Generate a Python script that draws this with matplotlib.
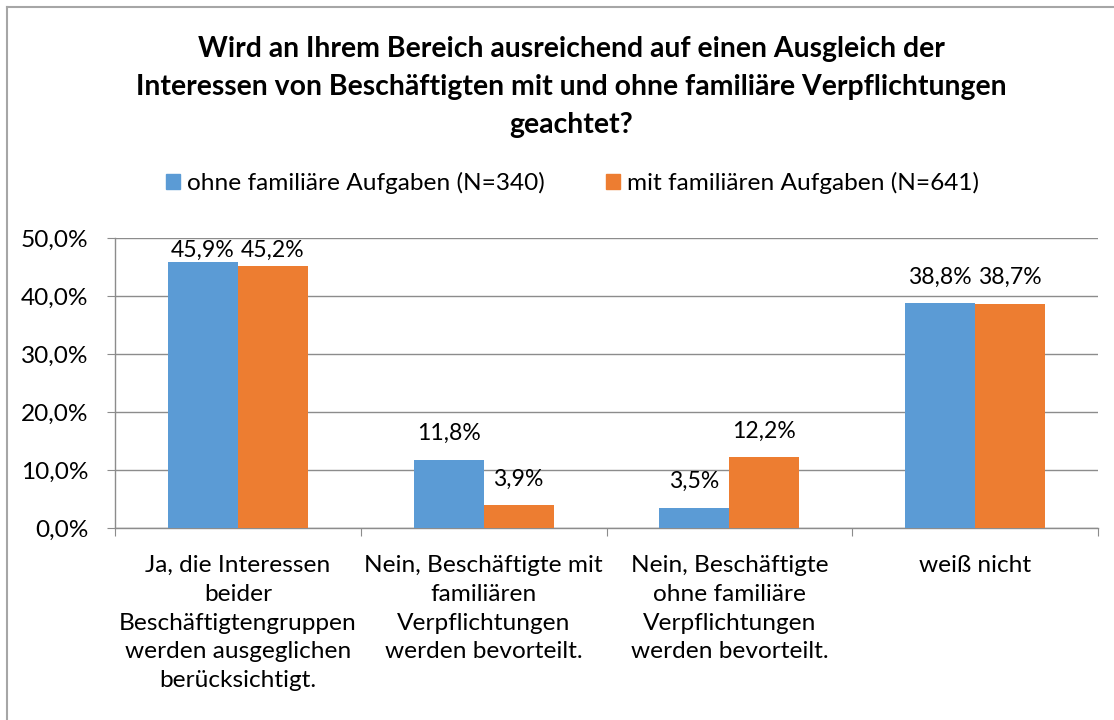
import matplotlib
matplotlib.use("Agg")
import matplotlib.pyplot as plt
import numpy as np
from matplotlib.patches import Rectangle
from matplotlib.lines import Line2D
import matplotlib.transforms as mtransforms

plt.rcParams['font.family'] = ['Lato', 'DejaVu Sans']

title = ("Wird an Ihrem Bereich ausreichend auf einen Ausgleich der\n"
         "Interessen von Beschäftigten mit und ohne familiäre Verpflichtungen\n"
         "geachtet?")
categories = ["Ja, die Interessen\nbeider\nBeschäftigtengruppen\nwerden ausgeglichen\nberücksichtigt.",
              "Nein, Beschäftigte mit\nfamiliären\nVerpflichtungen\nwerden bevorteilt.",
              "Nein, Beschäftigte\nohne familiäre\nVerpflichtungen\nwerden bevorteilt.",
              "weiß nicht"]
series_names = ["ohne familiäre Aufgaben (N=340)", "mit familiären Aufgaben (N=641)"]
ohne = [45.9, 11.8, 3.5, 38.8]
mit = [45.2, 3.9, 12.2, 38.7]
yticks = [0, 10, 20, 30, 40, 50]
colors = ["#5B9BD5", "#ED7D31"]

W, H = 1114, 720
FS = 17.6
fig = plt.figure(figsize=(W/100, H/100), dpi=100)
ax = fig.add_axes([115/W, 1-528/H, (1098-115)/W, (528-238)/H])

x = np.arange(len(categories))
bw = 0.285
for i, (vals, c) in enumerate(zip([ohne, mit], colors)):
    pos = x + (i - 0.5) * bw
    ax.bar(pos, vals, width=bw, color=c, zorder=3, label=series_names[i])
    for p, v in zip(pos, vals):
        yc = min(v + 4.5, 47.9)
        ax.text(p, yc, f"{v:.1f}%".replace('.', ','), ha='center', va='center',
                fontsize=16.6, color='black', zorder=4)

ax.set_xlim(-0.5, len(categories) - 0.5)
ax.set_ylim(0, 50)
ax.set_yticks(yticks)
ax.set_yticklabels([f"{t:.1f}%".replace('.', ',') for t in yticks], fontsize=FS)
ax.yaxis.grid(True, color='#8C8C8C', linewidth=1, zorder=0)
ax.set_axisbelow(True)
for s in ['top', 'right']:
    ax.spines[s].set_visible(False)
for s in ['left', 'bottom']:
    ax.spines[s].set_color('#8C8C8C')
    ax.spines[s].set_linewidth(1)
ax.tick_params(axis='y', length=6, color='#8C8C8C', pad=13)
ax.set_xticks(np.arange(-0.5, len(categories)))
ax.set_xticklabels([])
ax.tick_params(axis='x', length=6, color='#8C8C8C')

trans = mtransforms.blended_transform_factory(ax.transData, fig.transFigure)
for xi, lab in zip(x, categories):
    ax.text(xi, 1-555/H, lab, ha='center', va='top', fontsize=FS, linespacing=1.46,
            transform=trans, multialignment='center')

fig.text(571/W, 1-87/H, title, ha='center', va='center', fontsize=20.4, fontweight='bold',
         linespacing=1.55)

handles = [Rectangle((0, 0), 1, 1, color=c) for c in colors]
fig.legend(handles, series_names, loc='center', bbox_to_anchor=(0.514, 1-183/H), ncol=2,
           frameon=False, fontsize=FS, handlelength=0.57, handleheight=0.57,
           handletextpad=0.3, columnspacing=2.5, borderaxespad=0)

fig.add_artist(Line2D([7/W, 1], [1-7/H, 1-7/H], transform=fig.transFigure,
                      color='#A6A6A6', linewidth=1.5))
fig.add_artist(Line2D([7/W, 7/W], [0, 1-7/H], transform=fig.transFigure,
                      color='#A6A6A6', linewidth=1.5))
fig.savefig("out.png", dpi=100)
